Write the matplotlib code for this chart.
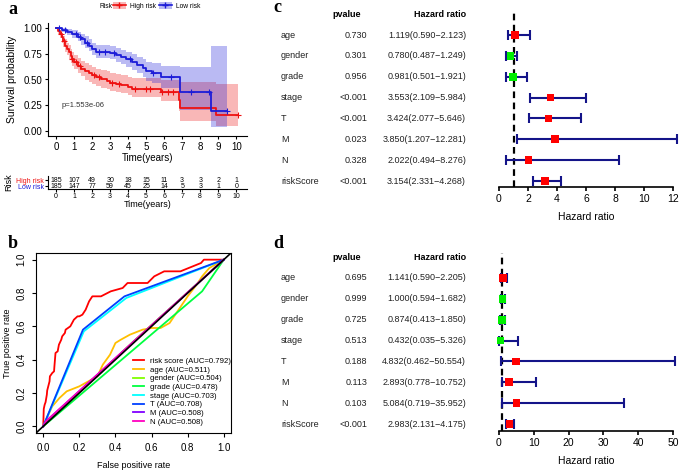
import numpy as np
import matplotlib
matplotlib.use("Agg")
import matplotlib.pyplot as plt
from matplotlib.lines import Line2D
from matplotlib.patches import Patch
from matplotlib.transforms import blended_transform_factory

plt.rcParams['font.family'] = ['Liberation Sans', 'DejaVu Sans']

# ---- a: Kaplan-Meier ----
high_t = [0, 0.1, 0.2, 0.3, 0.4, 0.5, 0.6, 0.7, 0.8, 0.9, 1.0, 1.2, 1.4, 1.6, 1.8, 2.0, 2.2, 2.5, 2.8, 3.0, 3.3, 3.6, 4.0, 4.2, 5.8, 6.8, 6.9, 8.9]
high_s = [1.0, 0.97, 0.94, 0.91, 0.87, 0.83, 0.80, 0.77, 0.73, 0.70, 0.67, 0.63, 0.60, 0.58, 0.56, 0.54, 0.52, 0.50, 0.49, 0.47, 0.46, 0.45, 0.43, 0.41, 0.38, 0.30, 0.22, 0.15]
high_lo = [1.0, 0.94, 0.90, 0.86, 0.82, 0.77, 0.74, 0.70, 0.66, 0.63, 0.60, 0.56, 0.53, 0.50, 0.48, 0.46, 0.44, 0.42, 0.41, 0.39, 0.38, 0.37, 0.35, 0.33, 0.29, 0.19, 0.10, 0.05]
high_hi = [1.0, 1.0, 0.98, 0.95, 0.92, 0.89, 0.86, 0.84, 0.80, 0.77, 0.74, 0.71, 0.68, 0.66, 0.64, 0.62, 0.60, 0.59, 0.58, 0.56, 0.55, 0.54, 0.52, 0.51, 0.50, 0.48, 0.48, 0.46]
high_end = 10.1
high_cens = [0.25, 0.45, 0.9, 1.1, 1.3, 2.1, 2.4, 3.1, 3.5, 4.4, 5.0, 5.2, 5.9, 6.2, 6.5, 10.1]

low_t = [0, 0.3, 0.6, 0.9, 1.2, 1.4, 1.6, 1.8, 2.0, 2.2, 3.0, 3.3, 3.6, 3.9, 4.2, 4.5, 4.8, 5.0, 5.3, 5.8, 6.9, 8.6]
low_s = [1.0, 0.98, 0.96, 0.94, 0.91, 0.89, 0.86, 0.83, 0.80, 0.77, 0.76, 0.74, 0.72, 0.70, 0.67, 0.64, 0.61, 0.58, 0.56, 0.52, 0.38, 0.19]
low_lo = [1.0, 0.96, 0.93, 0.90, 0.87, 0.84, 0.81, 0.78, 0.74, 0.71, 0.70, 0.67, 0.65, 0.62, 0.59, 0.56, 0.52, 0.49, 0.47, 0.42, 0.20, 0.04]
low_hi = [1.0, 1.0, 0.99, 0.98, 0.96, 0.94, 0.92, 0.89, 0.86, 0.84, 0.83, 0.81, 0.79, 0.77, 0.75, 0.72, 0.70, 0.67, 0.66, 0.63, 0.62, 0.83]
low_end = 9.5
low_cens = [0.15, 0.5, 1.1, 1.3, 1.7, 2.4, 2.7, 3.2, 4.1, 5.4, 6.4, 7.5, 8.5, 9.5]

risk_years = list(range(11))
high_at_risk = [185, 107, 49, 30, 18, 15, 11, 3, 3, 2, 1]
low_at_risk = [185, 147, 77, 59, 45, 25, 14, 5, 3, 1, 0]

# ---- b: ROC ----
roc_labels = ['risk score (AUC=0.792)', 'age (AUC=0.511)', 'gender (AUC=0.504)', 'grade (AUC=0.478)',
              'stage (AUC=0.703)', 'T (AUC=0.708)', 'M (AUC=0.508)', 'N (AUC=0.508)']
roc_colors = ['#FF0000', '#FFBF00', '#80FF00', '#00FF40', '#00FFFF', '#0040FF', '#8000FF', '#FF00BF']
roc_fpr = [
    [0, 0.003, 0.008, 0.013, 0.02, 0.022, 0.035, 0.037, 0.05, 0.06, 0.062, 0.068, 0.08, 0.087, 0.10, 0.105, 0.12, 0.124, 0.15, 0.16, 0.17, 0.19, 0.20, 0.217, 0.235, 0.254, 0.272, 0.32, 0.374, 0.44, 0.467, 0.578, 0.615, 0.67, 0.76, 0.874, 0.89, 1.0],
    [0, 0.02, 0.05, 0.09, 0.13, 0.2, 0.3, 0.33, 0.37, 0.4, 0.43, 0.48, 0.55, 0.6, 0.65, 0.7, 0.75, 0.8, 0.85, 0.88, 0.92, 1.0],
    [0, 0.5, 1.0],
    [0, 0.88, 1.0],
    [0, 0.225, 0.46, 1.0],
    [0, 0.22, 0.45, 1.0],
    [0, 0.015, 1.0],
    [0, 0.015, 1.0],
]
roc_tpr = [
    [0, 0.105, 0.13, 0.145, 0.19, 0.215, 0.27, 0.30, 0.32, 0.33, 0.36, 0.44, 0.45, 0.49, 0.52, 0.54, 0.56, 0.58, 0.60, 0.62, 0.64, 0.66, 0.66, 0.67, 0.70, 0.75, 0.78, 0.78, 0.81, 0.83, 0.86, 0.86, 0.90, 0.93, 0.93, 0.98, 1.0, 1.0],
    [0, 0.05, 0.12, 0.17, 0.21, 0.24, 0.30, 0.37, 0.43, 0.50, 0.52, 0.55, 0.58, 0.59, 0.59, 0.62, 0.70, 0.78, 0.85, 0.90, 0.95, 1.0],
    [0, 0.51, 1.0],
    [0, 0.81, 1.0],
    [0, 0.57, 0.77, 1.0],
    [0, 0.58, 0.78, 1.0],
    [0, 0.03, 1.0],
    [0, 0.03, 1.0],
]

# ---- c/d: forest ----
variables = ['age', 'gender', 'grade', 'stage', 'T', 'M', 'N', 'riskScore']
uni_p = ['0.730', '0.301', '0.956', '<0.001', '<0.001', '0.023', '0.328', '<0.001']
uni_hr = [1.119, 0.780, 0.981, 3.553, 3.424, 3.850, 2.022, 3.154]
uni_lo = [0.590, 0.487, 0.501, 2.109, 2.077, 1.207, 0.494, 2.331]
uni_hi = [2.123, 1.249, 1.921, 5.984, 5.646, 12.281, 8.276, 4.268]
multi_p = ['0.695', '0.999', '0.725', '0.513', '0.188', '0.113', '0.103', '<0.001']
multi_hr = [1.141, 1.000, 0.874, 0.432, 4.832, 2.893, 5.084, 2.983]
multi_lo = [0.590, 0.594, 0.413, 0.035, 0.462, 0.778, 0.719, 2.131]
multi_hi = [2.205, 1.682, 1.850, 5.326, 50.554, 10.752, 35.952, 4.175]

W, H = 685, 471
fig = plt.figure(figsize=(W / 100, H / 100), dpi=100)


def box(l, t, r, b):
    return [l / W, 1 - b / H, (r - l) / W, (b - t) / H]


def step_xy(t, s, end):
    return np.append(t, end), np.append(s, s[-1])


def surv_at(t, s, x):
    idx = np.searchsorted(t, x, side='right') - 1
    return np.array(s)[idx]


red, blue = '#ee1111', '#1c1cd8'

# a
ax = fig.add_axes(box(48, 23, 247, 136))
for t, s, lo, hi, end, cens, c in [(high_t, high_s, high_lo, high_hi, high_end, high_cens, red),
                                    (low_t, low_s, low_lo, low_hi, low_end, low_cens, blue)]:
    x, y = step_xy(t, s, end)
    _, ylo = step_xy(t, lo, end)
    _, yhi = step_xy(t, hi, end)
    ax.fill_between(x, ylo, yhi, step='post', color=c, alpha=0.3, lw=0)
    ax.step(x, y, where='post', color=c, lw=1.3)
    ax.plot(cens, surv_at(t, s, cens), '+', color=c, ms=4, mew=0.8)
ax.set_xlim(-0.45, 10.6)
ax.set_ylim(-0.05, 1.05)
ax.set_xticks(range(11))
ax.set_yticks([0, 0.25, 0.5, 0.75, 1.0])
ax.set_yticklabels(['0.00', '0.25', '0.50', '0.75', '1.00'])
ax.tick_params(labelsize=7, length=2.5, pad=1.5)
ax.spines[['top', 'right']].set_visible(False)
ax.set_xlabel('Time(years)', fontsize=7, labelpad=1)
ax.set_ylabel('Survival probability', fontsize=7.5, labelpad=5)
ax.text(0.3, 0.25, 'p=1.553e-06', fontsize=5.5, color='#333333', va='center')

fig.text(99 / W, 1 - 6 / H, 'Risk', fontsize=4.8, va='center')
handles = [(Patch(color=red, alpha=0.3, lw=0), Line2D([], [], color=red, marker='+', lw=1.2, ms=4)),
           (Patch(color=blue, alpha=0.3, lw=0), Line2D([], [], color=blue, marker='+', lw=1.2, ms=4))]
fig.legend(handles, ['High risk', 'Low risk'], loc='center left', bbox_to_anchor=(113 / W, 1 - 6 / H),
           ncol=2, frameon=False, fontsize=4.8, handlelength=1.9, handleheight=1.2, handletextpad=0.6,
           columnspacing=0.5, borderpad=0, borderaxespad=0)

# risk table
axr = fig.add_axes(box(48, 176, 247, 189))
for i, yr in enumerate(risk_years):
    axr.text(yr, 1, str(high_at_risk[i]), ha='center', va='center', fontsize=5)
    axr.text(yr, 0, str(low_at_risk[i]), ha='center', va='center', fontsize=5)
axr.set_xlim(-0.45, 10.6)
axr.set_ylim(-0.5, 1.67)
axr.set_xticks(risk_years)
axr.set_yticks([1, 0])
axr.set_yticklabels(['High risk', 'Low risk'])
axr.get_yticklabels()[0].set_color(red)
axr.get_yticklabels()[1].set_color(blue)
axr.spines[['top', 'right']].set_visible(False)
axr.tick_params(labelsize=5, length=2, pad=1)
axr.set_xlabel('Time(years)', fontsize=6.5, labelpad=0)
axr.set_ylabel('Risk', fontsize=6.5, labelpad=2)

# b
axb = fig.add_axes(box(36, 253, 231, 433))
for fpr, tpr, c in zip(roc_fpr, roc_tpr, roc_colors):
    axb.plot(fpr, tpr, color=c, lw=1.3)
axb.plot([-0.04, 1.04], [-0.04, 1.04], color='black', lw=1.2)
axb.set_xlim(-0.04, 1.04)
axb.set_ylim(-0.04, 1.04)
ticks = [0, 0.2, 0.4, 0.6, 0.8, 1.0]
axb.set_xticks(ticks)
axb.set_yticks(ticks)
axb.set_xticklabels(['%.1f' % v for v in ticks])
axb.set_yticklabels(['%.1f' % v for v in ticks], rotation=90, va='center')
axb.tick_params(labelsize=7, length=3, pad=4)
axb.set_xlabel('False positive rate', fontsize=6.5, labelpad=6)
axb.set_ylabel('True positive rate', fontsize=6.5, labelpad=3)
axb.legend([Line2D([], [], color=c, lw=1.3) for c in roc_colors], roc_labels, loc='lower left',
           bbox_to_anchor=(0.47, 0.01), frameon=False, fontsize=5.6, handlelength=1.4,
           handletextpad=0.8, labelspacing=0.16, borderaxespad=0.3)

# c, d forest plots


def forest(top_px, axis_px, dash_top, xmax, xticks, hr, lo, hi, pv):
    rows = np.arange(len(hr), 0, -1)
    row_px = 20.86
    y0 = 1 - (axis_px - (top_px + 7 * row_px)) / row_px
    y1 = 8 + (top_px - dash_top) / row_px
    scale = 174.0 / xmax
    pad = 7.5 / scale
    axf = fig.add_axes(box(499 - pad * scale, dash_top, 673 + pad * scale, axis_px))
    axf.set_xlim(-pad, xmax + pad)
    axf.set_ylim(y0, y1)
    axf.axvline(1, color='black', ls=(0, (3, 2)), lw=1.6)
    axf.errorbar(hr, rows, xerr=[np.array(hr) - np.array(lo), np.array(hi) - np.array(hr)], fmt='none',
                 ecolor='#141489', elinewidth=1.5, capsize=3.5, capthick=1.5)
    cols = ['red' if v > 1 else '#00ee00' for v in hr]
    axf.scatter(hr, rows, marker='s', s=30, c=cols, zorder=3, lw=0)
    axf.set_xticks(xticks)
    axf.set_yticks([])
    for sp in ['top', 'right', 'left']:
        axf.spines[sp].set_visible(False)
    axf.spines['bottom'].set_bounds(0, xmax)
    axf.spines['bottom'].set_linewidth(1.2)
    axf.tick_params(labelsize=7.5, length=3, width=1.2, pad=2)
    axf.set_xlabel('Hazard ratio', fontsize=7.5, labelpad=6)
    tr = blended_transform_factory(fig.transFigure, axf.transData)
    hdr = 8 + 21 / row_px
    axf.text(347 / W, hdr, 'pvalue', transform=tr, ha='center', va='center', fontsize=6.5, fontweight='bold')
    axf.text(466 / W, hdr, 'Hazard ratio', transform=tr, ha='right', va='center', fontsize=6.5, fontweight='bold')
    for i, r in enumerate(rows):
        axf.text(281 / W, r, variables[i], transform=tr, ha='left', va='center', fontsize=6.5, color='#222222')
        axf.text(367 / W, r, pv[i], transform=tr, ha='right', va='center', fontsize=6.5, color='#222222')
        axf.text(466 / W, r, '%.3f(%.3f\u2212%.3f)' % (hr[i], lo[i], hi[i]), transform=tr, ha='right',
                 va='center', fontsize=6.5, color='#222222')


forest(35, 187, 12, 12, range(0, 13, 2), uni_hr, uni_lo, uni_hi, uni_p)
forest(278, 431, 253, 50, range(0, 51, 10), multi_hr, multi_lo, multi_hi, multi_p)

for lab, x, y in [('a', 8, 10), ('b', 8, 244), ('c', 273, 8), ('d', 273, 244)]:
    fig.text(x / W, 1 - y / H, lab, fontsize=13, fontweight='bold', family='Liberation Serif',
             va='center', ha='left')

fig.savefig('out.png', dpi=100)
